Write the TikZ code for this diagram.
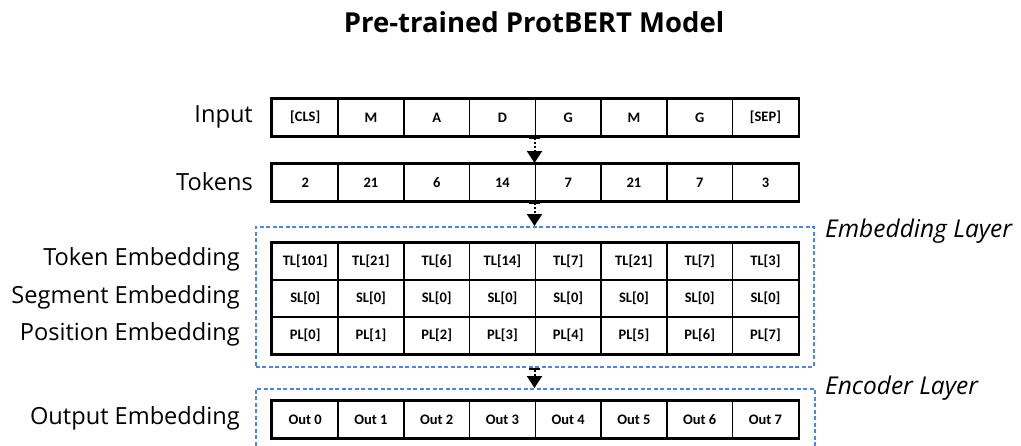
\documentclass[tikz,border=0pt]{standalone}
\usepackage{fontspec}
\setmainfont{Open Sans}
\newfontfamily\cellfont{Carlito}
\usetikzlibrary{arrows.meta}
\definecolor{dashblue}{RGB}{74,134,232}
\begin{document}
\begin{tikzpicture}[x=1pt,y=-1pt,
  cell/.style={draw, line width=1.6pt, minimum width=65.75pt, minimum height=37pt, inner sep=0pt,
    font=\cellfont\bfseries\fontsize{14.5}{16}\selectfont, anchor=north west},
  rowouter/.style={draw, line width=2.4pt},
  rowlabel/.style={anchor=east, inner sep=0pt, font=\fontsize{23.6}{27}\selectfont},
  layerbox/.style={draw=dashblue, line width=1.8pt, dash pattern=on 4pt off 2.5pt, anchor=north west, inner sep=0pt},
  layerlabel/.style={anchor=west, inner sep=0pt, font=\itshape\fontsize{24.5}{28}\selectfont},
  flow/.style={line width=2pt, dotted, {Bar[width=11pt,line width=2.5pt]}-{Triangle[width=15pt,length=12pt]}}
]
\useasboundingbox (0,0) rectangle (1021,445);
\clip (0,0) rectangle (1021,445);

\node[font=\bfseries\fontsize{27.5}{31}\selectfont] (title) at (534,22) {Pre-trained ProtBERT Model};

% rows of cells
\foreach \t [count=\i from 0] in {{[CLS]},M,A,D,G,M,G,{[SEP]}}
  \node[cell] (in\i) at ({271.5+65.75*\i},98) {\t};
\foreach \t [count=\i from 0] in {2,21,6,14,7,21,7,3}
  \node[cell] (tok\i) at ({271.5+65.75*\i},163) {\t};
\foreach \t [count=\i from 0] in {101,21,6,14,7,21,7,3}
  \node[cell] (tl\i) at ({271.5+65.75*\i},242) {TL[\t]};
\foreach \i in {0,...,7}
  \node[cell] (sl\i) at ({271.5+65.75*\i},279) {SL[0]};
\foreach \i in {0,...,7}
  \node[cell] (pl\i) at ({271.5+65.75*\i},316) {PL[\i]};
\foreach \i in {0,...,7}
  \node[cell] (out\i) at ({271.5+65.75*\i},400) {Out \i};

\draw[rowouter] (in0.north west) rectangle (in7.south east);
\draw[rowouter] (tok0.north west) rectangle (tok7.south east);
\draw[rowouter] (tl0.north west) rectangle (pl7.south east);
\draw[rowouter] (out0.north west) rectangle (out7.south east);

% layer boxes
\node[layerbox, minimum width=558pt, minimum height=140pt] (emb) at (255,226) {};
\node[layerbox, minimum width=559pt, minimum height=90pt] (enc) at (255,388) {};

% labels
\node[rowlabel] (linput) at (253,116.5) {Input};
\node[rowlabel] (ltokens) at (253,181.5) {Tokens};
\node[rowlabel] (ltoken) at (240,259) {Token Embedding};
\node[rowlabel] (lseg) at (240,297) {Segment Embedding};
\node[rowlabel] (lpos) at (240,334) {Position Embedding};
\node[rowlabel] (lout) at (240,418) {Output Embedding};
\node[layerlabel] (lemb) at (825,231) {Embedding Layer};
\node[layerlabel] (lenc) at (825,388) {Encoder Layer};

% connectors
\draw[flow] (in4.south west) -- (tok4.north west);
\draw[flow] (tok4.south west) -- (tok4.south west |- emb.north);
\draw[flow] (tok4.south west |- emb.south) -- (tok4.south west |- enc.north);
\end{tikzpicture}
\end{document}
